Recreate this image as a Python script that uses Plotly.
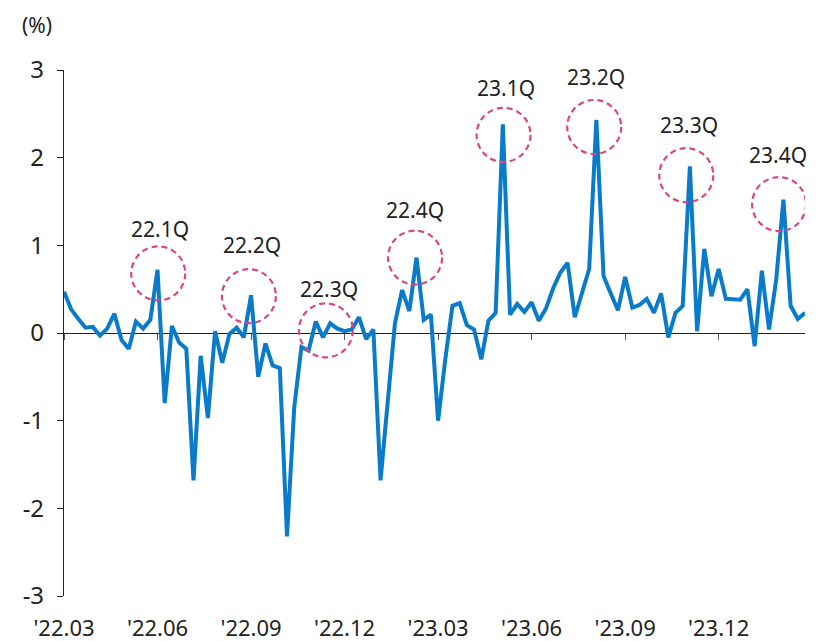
import plotly.graph_objects as go

values = [0.47, 0.27, 0.16, 0.06, 0.07, -0.03, 0.05, 0.22, -0.08, -0.18,
          0.13, 0.05, 0.15, 0.72, -0.80, 0.08, -0.11, -0.18, -1.68, -0.26,
          -0.97, 0.02, -0.34, -0.01, 0.06, -0.05, 0.43, -0.50, -0.12, -0.37,
          -0.40, -2.32, -0.85, -0.16, -0.20, 0.13, -0.05, 0.11, 0.05, 0.02,
          0.04, 0.18, -0.07, 0.04, -1.68, -0.80, 0.11, 0.49, 0.25, 0.86,
          0.15, 0.21, -1.00, -0.30, 0.31, 0.34, 0.09, 0.04, -0.30, 0.14,
          0.23, 2.38, 0.21, 0.33, 0.24, 0.35, 0.14, 0.28, 0.51, 0.69,
          0.80, 0.18, 0.46, 0.73, 2.43, 0.65, 0.45, 0.26, 0.64, 0.29,
          0.32, 0.39, 0.23, 0.45, -0.05, 0.23, 0.31, 1.90, 0.02, 0.96,
          0.42, 0.73, 0.39, 0.39, 0.38, 0.50, -0.15, 0.71, 0.04, 0.61,
          1.52, 0.31, 0.16, 0.23]
weeks = list(range(len(values)))

tick_weeks = [0, 13, 26, 39, 52, 65, 78, 91]
tick_labels = ["'22.03", "'22.06", "'22.09", "'22.12", "'23.03", "'23.06", "'23.09", "'23.12"]

y_ticks = [-3, -2, -1, 0, 1, 2, 3]
y_tick_labels = ["-3", "-2", "-1", "0", "1", "2", "3"]

q_labels = ["22.1Q", "22.2Q", "22.3Q", "22.4Q", "23.1Q", "23.2Q", "23.3Q", "23.4Q"]
circle_x = [13.1, 25.7, 36.4, 48.8, 61.1, 73.7, 86.5, 99.4]
circle_y = [0.68, 0.42, 0.03, 0.86, 2.26, 2.35, 1.80, 1.47]
label_x = [13.3, 26.1, 36.9, 48.75, 61.4, 73.9, 86.9, 99.2]
label_y = [1.19, 1.00, 0.50, 1.40, 2.80, 2.92, 2.37, 2.03]

FONT = "Noto Sans"
LINE_COLOR = "#0a7bc9"
CIRCLE_COLOR = "#d94686"

fig = go.Figure()
fig.add_trace(go.Scatter(x=weeks, y=values, mode="lines",
                         line=dict(color=LINE_COLOR, width=4),
                         showlegend=False, hoverinfo="skip"))

shapes = []
for cx, cy in zip(circle_x, circle_y):
    shapes.append(dict(type="circle", xref="x", yref="y",
                       xsizemode="pixel", ysizemode="pixel",
                       xanchor=cx, yanchor=cy,
                       x0=-27, x1=27, y0=-27, y1=27,
                       line=dict(color=CIRCLE_COLOR, width=2.2, dash="6px,4px"),
                       layer="above"))

annotations = []
for t, lx, ly in zip(q_labels, label_x, label_y):
    annotations.append(dict(x=lx, y=ly, xref="x", yref="y", text=t,
                            showarrow=False, xanchor="center", yanchor="middle",
                            font=dict(family=FONT, size=21, color="#222222")))
annotations.append(dict(x=-0.037, y=1.085, xref="paper", yref="paper", text="(%)",
                        showarrow=False, xanchor="center", yanchor="middle",
                        font=dict(family=FONT, size=21, color="#222222")))

fig.update_layout(
    width=833, height=641,
    margin=dict(l=64, r=28, t=70, b=45),
    paper_bgcolor="white", plot_bgcolor="white",
    shapes=shapes, annotations=annotations,
    xaxis=dict(range=[0, 103], tickvals=tick_weeks, ticktext=tick_labels,
               showgrid=False, zeroline=False, showline=False, ticks="",
               ticklabelstandoff=17, automargin=False,
               tickfont=dict(family=FONT, size=22, color="#222222")),
    xaxis2=dict(range=[0, 103], overlaying="x", anchor="free", position=0.5,
                side="bottom", tickvals=tick_weeks, showticklabels=False,
                ticks="outside", ticklen=6, tickwidth=1, tickcolor="#555555",
                showgrid=False, zeroline=False, showline=False, automargin=False),
    yaxis=dict(range=[-3, 3], tickvals=y_ticks, ticktext=y_tick_labels,
               showgrid=False, automargin=False,
               zeroline=True, zerolinecolor="#222222", zerolinewidth=1.2,
               showline=True, linecolor="#222222", linewidth=1.2,
               ticks="outside", ticklen=6, tickcolor="#222222",
               ticklabelstandoff=8,
               tickfont=dict(family=FONT, size=24, color="#222222")),
)
fig.add_trace(go.Scatter(x=[0, 103], y=[0, 0], xaxis="x2", mode="lines",
                         line=dict(width=0), showlegend=False, hoverinfo="skip"))

fig.write_html("out.html")
